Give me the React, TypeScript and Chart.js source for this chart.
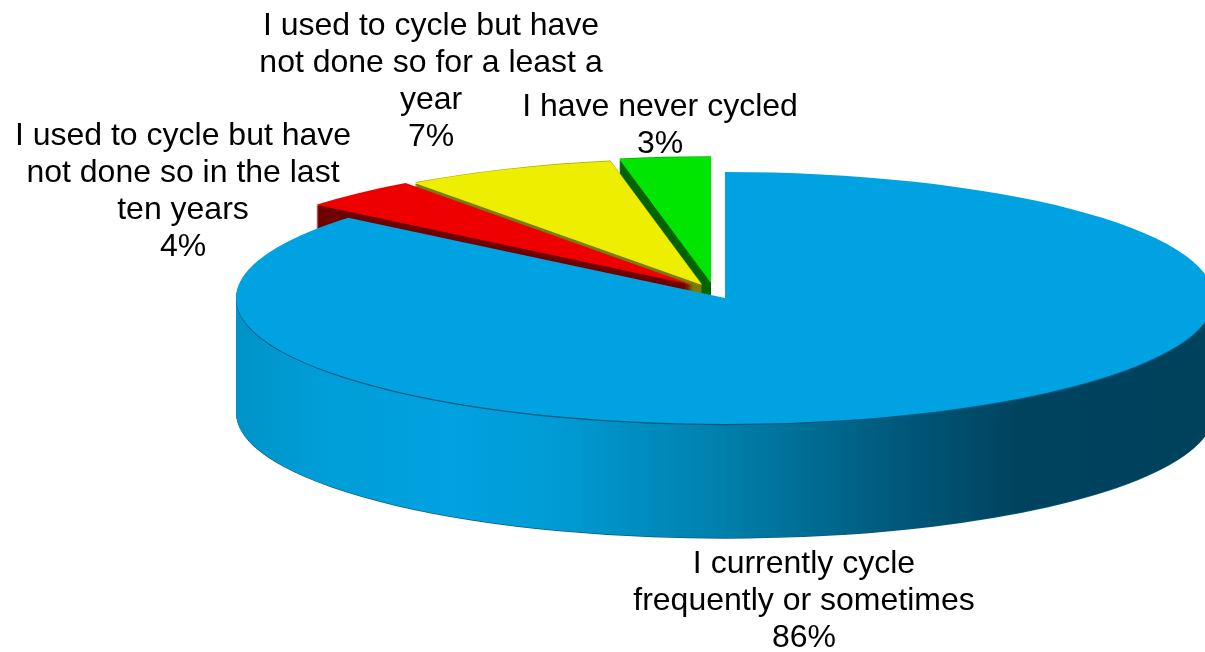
import React, { useEffect, useRef } from "react";
import { Chart, registerables } from "chart.js";

Chart.register(...registerables);

const categoryLines: string[][] = [
  ["I currently cycle", "frequently or sometimes"],
  ["I used to cycle but have", "not done so in the last", "ten years"],
  ["I used to cycle but have", "not done so for a least a", "year"],
  ["I have never cycled"],
];
const percentValues: number[] = [86, 4, 7, 3];
const topColors: string[] = ["#00a2e2", "#ee0000", "#eeee00", "#00e600"];
const wallColors: string[] = ["#0090c0", "#6e0000", "#7c7c00", "#006400"];
const edgeColors: (string | null)[] = [null, null, "#a8a800", "#00b000"];

// layout of the 3D view, in page pixels
const PIE_CX = 725;
const PIE_CY = 298;
const PIE_RX = 489;
const PIE_RY = 126;
const PIE_DEPTH = 114;
const sliceShift: [number, number][] = [[0, 0], [-32, -13], [-23, -13], [-14, -15]];
const labelAnchor: [number, number][] = [[804, 564], [183, 136], [431, 26], [660, 107]];
const LINE_HEIGHT = 37;
const wallStops: [number, string][] = [
  [236, "#0094c8"], [330, "#009ed8"], [450, "#00a2e0"], [560, "#009bd4"], [640, "#008dbf"],
  [720, "#0080ad"], [800, "#006f96"], [900, "#00587a"], [1020, "#00435f"], [1205, "#00425c"],
];

const pie3d = {
  id: "pie3d",
  beforeDatasetsDraw(chart: any) {
    const ctx: CanvasRenderingContext2D = chart.ctx;
    const arcs = chart.getDatasetMeta(0).data;
    const paint = (arc: any, i: number, d: number, color: any) => {
      const sx = PIE_RX / arc.outerRadius;
      const sy = PIE_RY / arc.outerRadius;
      const original = arc.options;
      arc.options = { ...original, backgroundColor: color, borderWidth: 0 };
      ctx.save();
      ctx.translate(PIE_CX + sliceShift[i][0], PIE_CY + sliceShift[i][1] + d);
      ctx.scale(sx, sy);
      ctx.translate(-arc.x, -arc.y);
      arc.draw(ctx);
      ctx.restore();
      arc.options = original;
    };
    for (let i = arcs.length - 1; i >= 0; i--) {
      const arc = arcs[i];
      let wall: any = wallColors[i];
      if (i === 0) {
        const sx = PIE_RX / arc.outerRadius;
        const toArc = (x: number) => (x - PIE_CX) / sx + arc.x;
        const g = ctx.createLinearGradient(toArc(236), 0, toArc(1205), 0);
        wallStops.forEach(([x, c]) => g.addColorStop((x - 236) / (1205 - 236), c));
        wall = g;
        paint(arc, i, PIE_DEPTH + 0.7, "#0a5a80");
      }
      for (let d = PIE_DEPTH; d >= 2; d--) paint(arc, i, d, wall);
      paint(arc, i, 1.2, i === 0 ? "#00597c" : wallColors[i]);
      if (edgeColors[i]) paint(arc, i, -0.7, edgeColors[i]);
      paint(arc, i, 0, topColors[i]);
    }
    return false;
  },
  afterDraw(chart: any) {
    const ctx: CanvasRenderingContext2D = chart.ctx;
    ctx.save();
    ctx.font = '32px "Liberation Sans"';
    ctx.fillStyle = "#000000";
    ctx.textAlign = "center";
    ctx.textBaseline = "middle";
    categoryLines.forEach((lines, i) => {
      const all = [...lines, `${percentValues[i]}%`];
      all.forEach((t, k) => ctx.fillText(t, labelAnchor[i][0], labelAnchor[i][1] + k * LINE_HEIGHT));
    });
    ctx.restore();
  },
};

export default function App() {
  const ref = useRef<HTMLCanvasElement>(null);
  useEffect(() => {
    document.body.style.margin = "0";
    const chart = new Chart(ref.current as HTMLCanvasElement, {
      type: "pie",
      data: {
        labels: categoryLines.map((l) => l.join(" ")),
        datasets: [{ data: percentValues, backgroundColor: topColors, borderWidth: 0 }],
      },
      options: {
        animation: false,
        responsive: false,
        rotation: 0,
        plugins: { legend: { display: false }, tooltip: { enabled: false } },
      },
      plugins: [pie3d],
    } as any);
    return () => chart.destroy();
  }, []);
  return <canvas ref={ref} width={1205} height={652} style={{ display: "block" }} />;
}
